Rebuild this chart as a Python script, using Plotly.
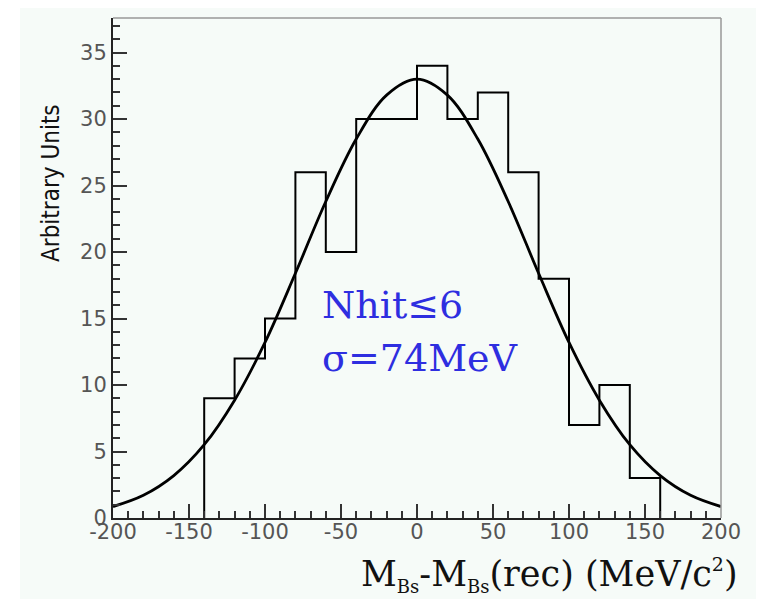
import plotly.graph_objects as go

# Histogram bin edges and counts
bin_edges = [-140, -120, -100, -80, -60, -40, -20, 0, 20, 40, 60, 80, 100, 120, 140, 160]
counts = [9, 12, 15, 26, 20, 30, 30, 34, 30, 32, 26, 18, 7, 10, 3]

# Fit curve points
fit_x = [-200, -180, -160, -140, -120, -100, -80, -60, -40, -20, 0,
         20, 40, 60, 80, 100, 120, 140, 160, 180, 200]
fit_y = [0.86, 1.71, 3.19, 5.51, 8.86, 13.2, 18.4, 23.8, 28.5, 31.8, 33.0,
         31.8, 28.5, 23.8, 18.4, 13.2, 8.86, 5.51, 3.19, 1.71, 0.86]

x_ticks = [-200, -150, -100, -50, 0, 50, 100, 150, 200]
x_ticktext = ["-200", "-150", "-100", "-50", "0", "50", "100", "150", "200"]
y_ticks = [0, 5, 10, 15, 20, 25, 30, 35]

OFF = 8  # page body margin
W, H = 748, 591
L, T = 105, 10
pw, ph = 608, 500
R, B = W - L - pw, H - T - ph

def px(xw):
    return (xw - OFF - L) / pw

def py(yw):
    return (H - B - (yw - OFF)) / ph

hx = [bin_edges[0]] + bin_edges[:-1] + [bin_edges[-1]]
hy = [0] + counts + [0]

fig = go.Figure()
fig.add_trace(go.Scatter(x=hx, y=hy, mode="lines", line=dict(color="black", width=2, shape="hv"),
                         hoverinfo="skip", showlegend=False))
fig.add_trace(go.Scatter(x=fit_x, y=fit_y, mode="lines",
                         line=dict(color="black", width=2.8, shape="spline", smoothing=1.0),
                         showlegend=False))

bg = "#f6fbf8"
fig.add_shape(type="rect", xref="paper", yref="paper", x0=px(20), x1=px(758), y0=py(600), y1=py(5),
              fillcolor=bg, line=dict(width=0), layer="below")

tickfont = dict(family="DejaVu Sans", size=21, color="#555")
fig.update_layout(
    width=W, height=H,
    margin=dict(l=L, r=R, t=T, b=B, autoexpand=False),
    paper_bgcolor="white", plot_bgcolor=bg,
    xaxis=dict(range=[-200, 200], tickmode="array", tickvals=x_ticks, ticktext=x_ticktext,
               ticks="inside", ticklen=14, tickwidth=2, tickcolor="#333",
               minor=dict(dtick=10, tick0=-200, ticks="inside", ticklen=7, tickwidth=2, tickcolor="#333"),
               showgrid=False, zeroline=False, showline=True, linecolor="#222", linewidth=2,
               automargin=False, tickfont=tickfont, ticklabelstandoff=-6),
    yaxis=dict(range=[0, 37.6], tickmode="array", tickvals=y_ticks,
               ticks="inside", ticklen=14, tickwidth=2, tickcolor="#333",
               minor=dict(dtick=1, tick0=0, ticks="inside", ticklen=7, tickwidth=2, tickcolor="#333"),
               showgrid=False, zeroline=False, showline=True, linecolor="#222", linewidth=2,
               automargin=False, tickfont=tickfont),
)

# thin grey frame on top and right
fig.add_shape(type="line", xref="paper", yref="paper", x0=0, x1=1, y0=1, y1=1,
              line=dict(color="#999", width=1.5))
fig.add_shape(type="line", xref="paper", yref="paper", x0=1, x1=1, y0=0, y1=1,
              line=dict(color="#999", width=1.5))

fig.add_annotation(xref="paper", yref="paper", x=px(51), y=py(183), text="Arbitrary Units",
                   textangle=-90, showarrow=False, xanchor="center", yanchor="middle",
                   font=dict(family="DejaVu Sans Condensed", size=24, color="#111"))

fig.add_annotation(xref="paper", yref="paper", x=px(740), y=py(575),
                   text="M<sub><span style='font-size:18px'>Bs</span></sub>-M<sub><span style='font-size:18px'>Bs</span></sub>(rec) (MeV/c<sup><span style='font-size:19px'>2</span></sup>)",
                   showarrow=False, xanchor="right", yanchor="middle",
                   font=dict(family="DejaVu Serif", size=35, color="#111"))

blue = "#2e2ee0"
fig.add_annotation(xref="paper", yref="paper", x=px(320), y=py(305),
                   text="Nhit≤6", showarrow=False, xanchor="left", yanchor="middle",
                   font=dict(family="DejaVu Serif", size=38, color=blue))
fig.add_annotation(xref="paper", yref="paper", x=px(320), y=py(358),
                   text="σ=74MeV", showarrow=False, xanchor="left", yanchor="middle",
                   font=dict(family="DejaVu Serif", size=38, color=blue))

fig.write_html("out.html")
